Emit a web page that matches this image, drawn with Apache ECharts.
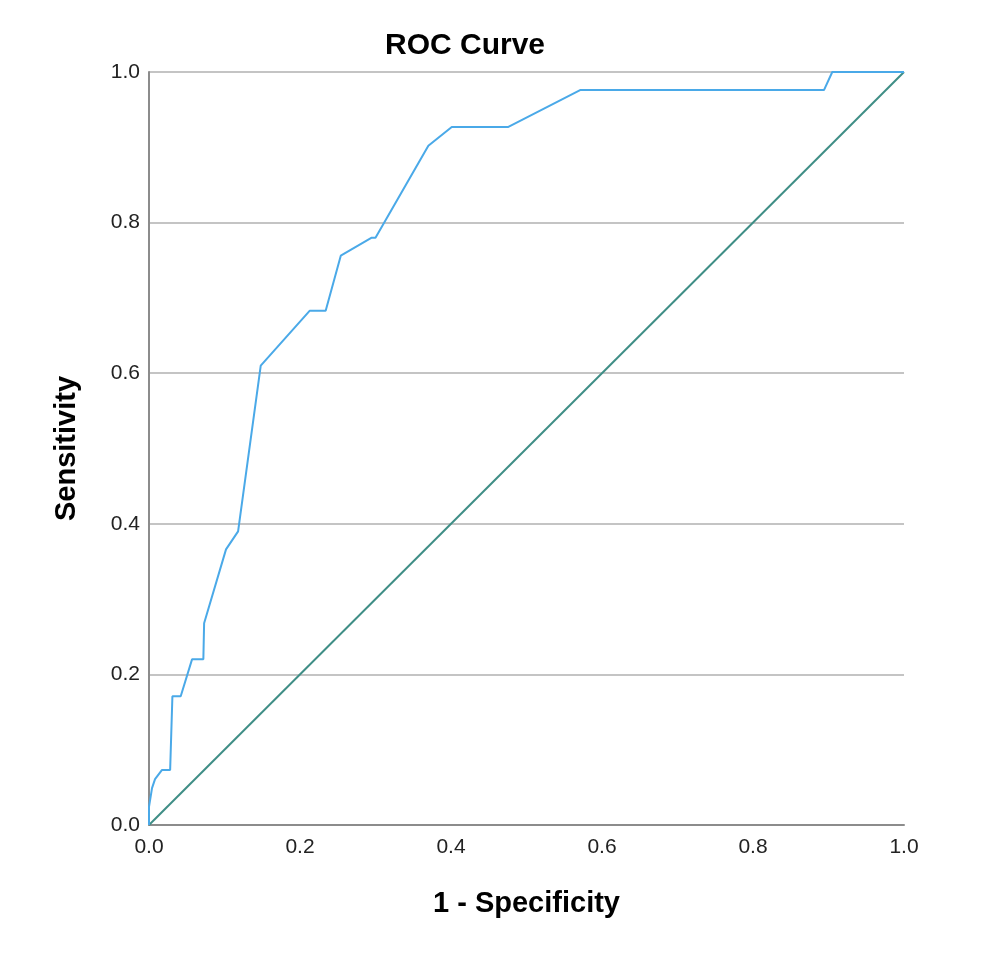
<!DOCTYPE html>
<html>
<head>
<meta charset="utf-8">
<script src="https://cdn.jsdelivr.net/npm/echarts@6/dist/echarts.min.js"></script>
<style>
html,body{margin:0;padding:0;background:#fff;}
#c{width:986px;height:968px;}
</style>
</head>
<body>
<div id="c"></div>
<script>
// 1 - Specificity (x) and Sensitivity (y) of ROC curve
const rocX = [0.000, 0.000, 0.004, 0.008, 0.017, 0.028, 0.031, 0.042, 0.057, 0.072, 0.073, 0.102, 0.118, 0.148, 0.213, 0.234, 0.254, 0.295, 0.300, 0.370, 0.401, 0.476, 0.571, 0.894, 0.905, 1.000];
const rocY = [0.000, 0.024, 0.049, 0.061, 0.073, 0.073, 0.171, 0.171, 0.220, 0.220, 0.268, 0.366, 0.390, 0.610, 0.683, 0.683, 0.756, 0.780, 0.780, 0.902, 0.927, 0.927, 0.976, 0.976, 1.000, 1.000];
const refX = [0, 1];
const refY = [0, 1];
const tickValues = [0.0, 0.2, 0.4, 0.6, 0.8, 1.0];

const chart = echarts.init(document.getElementById('c'));
const font = '"Liberation Sans", Arial, sans-serif';
chart.setOption({
  animation: false,
  backgroundColor: '#ffffff',
  title: {
    text: 'ROC Curve',
    left: 380, top: 26,
    textStyle: {fontFamily: font, fontSize: 30, fontWeight: 'bold', color: '#000'}
  },
  grid: {left: 149, right: 82, top: 72, bottom: 143},
  xAxis: {
    type: 'value', min: 0, max: 1, interval: 0.2,
    name: '1 - Specificity', nameLocation: 'middle', nameGap: 64,
    nameTextStyle: {fontFamily: font, fontSize: 29, fontWeight: 'bold', color: '#000'},
    axisLine: {show: true, onZero: false, lineStyle: {color: '#8c8c8c', width: 2}},
    axisTick: {show: false},
    splitLine: {show: false},
    axisLabel: {margin: 12, fontFamily: font, fontSize: 21, color: '#222',
      formatter: v => v.toFixed(1)}
  },
  yAxis: {
    type: 'value', min: 0, max: 1, interval: 0.2,
    name: 'Sensitivity', nameLocation: 'middle', nameGap: 68,
    nameTextStyle: {fontFamily: font, fontSize: 29, fontWeight: 'bold', color: '#000'},
    axisLine: {show: true, lineStyle: {color: '#8c8c8c', width: 2}},
    axisTick: {show: false},
    splitLine: {show: true, lineStyle: {color: '#c4c4c4', width: 2}},
    axisLabel: {margin: 9, fontFamily: font, fontSize: 21, color: '#222',
      formatter: v => v.toFixed(1)}
  },
  series: [
    {
      type: 'line', name: 'Reference',
      data: refX.map((x, i) => [x, refY[i]]),
      showSymbol: false, symbol: 'none',
      lineStyle: {color: '#3f8e86', width: 2}, z: 2
    },
    {
      type: 'line', name: 'ROC',
      data: rocX.map((x, i) => [x, rocY[i]]),
      showSymbol: false, symbol: 'none',
      lineStyle: {color: '#4aa9e8', width: 2}, z: 3
    }
  ]
});
</script>
</body>
</html>
